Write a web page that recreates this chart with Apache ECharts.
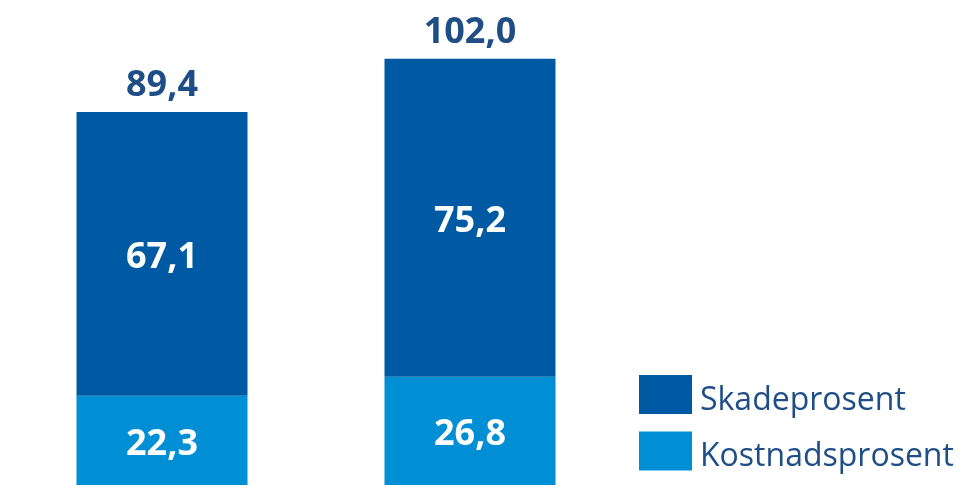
<!DOCTYPE html>
<html><head><meta charset="utf-8">
<script src="https://cdn.jsdelivr.net/npm/echarts@6/dist/echarts.min.js"></script>
<style>html,body{margin:0;padding:0;background:#fff}#c{width:963px;height:485px}</style>
</head><body><div id="c"></div>
<script>
const categories = ['A', 'B'];
const kostnadsprosent = [22.3, 26.8];
const skadeprosent = [67.1, 75.2];
const totals = [89.4, 102.0];
const seriesNames = ['Skadeprosent', 'Kostnadsprosent'];

const fmt = v => Number(v).toFixed(1).replace('.', ',');
const font = '"Open Sans", sans-serif';
const chart = echarts.init(document.getElementById('c'));
chart.setOption({
  animation: false,
  grid: { left: 8, right: 339, top: 0, bottom: 0 },
  xAxis: { type: 'category', data: categories, show: false },
  yAxis: { type: 'value', min: 1.2, max: 115.9, show: false },
  legend: {
    data: seriesNames, orient: 'vertical', left: 639, top: 375, padding: 0,
    itemWidth: 53, itemHeight: 39, itemGap: 15, icon: 'rect',
    formatter: n => '{t|' + n + '}',
    textStyle: { fontFamily: font, fontSize: 32, color: '#1F4E86',
      rich: { t: { fontFamily: font, fontSize: 32, color: '#1F4E86', padding: [12, 0, 0, 3] } } }
  },
  series: [
    { name: 'Kostnadsprosent', type: 'bar', stack: 's', barWidth: 171, data: kostnadsprosent,
      itemStyle: { color: '#008FD5' },
      label: { show: true, position: 'inside', offset: [0, 4], formatter: p => fmt(p.value), color: '#fff', fontFamily: font, fontWeight: 'bold', fontSize: 36 } },
    { name: 'Skadeprosent', type: 'bar', stack: 's', barWidth: 171, data: skadeprosent,
      itemStyle: { color: '#005AA3' },
      label: { show: true, position: 'inside', offset: [0, 4], formatter: p => fmt(p.value), color: '#fff', fontFamily: font, fontWeight: 'bold', fontSize: 36 } },
    { name: 'Total', type: 'bar', barWidth: 171, barGap: '-100%', data: totals, z: 0,
      itemStyle: { color: 'rgba(0,0,0,0)' }, silent: true,
      label: { show: true, position: 'top', distance: 8, formatter: p => fmt(p.value), color: '#1F4E86', fontFamily: font, fontWeight: 'bold', fontSize: 36 } }
  ]
});
</script></body></html>
